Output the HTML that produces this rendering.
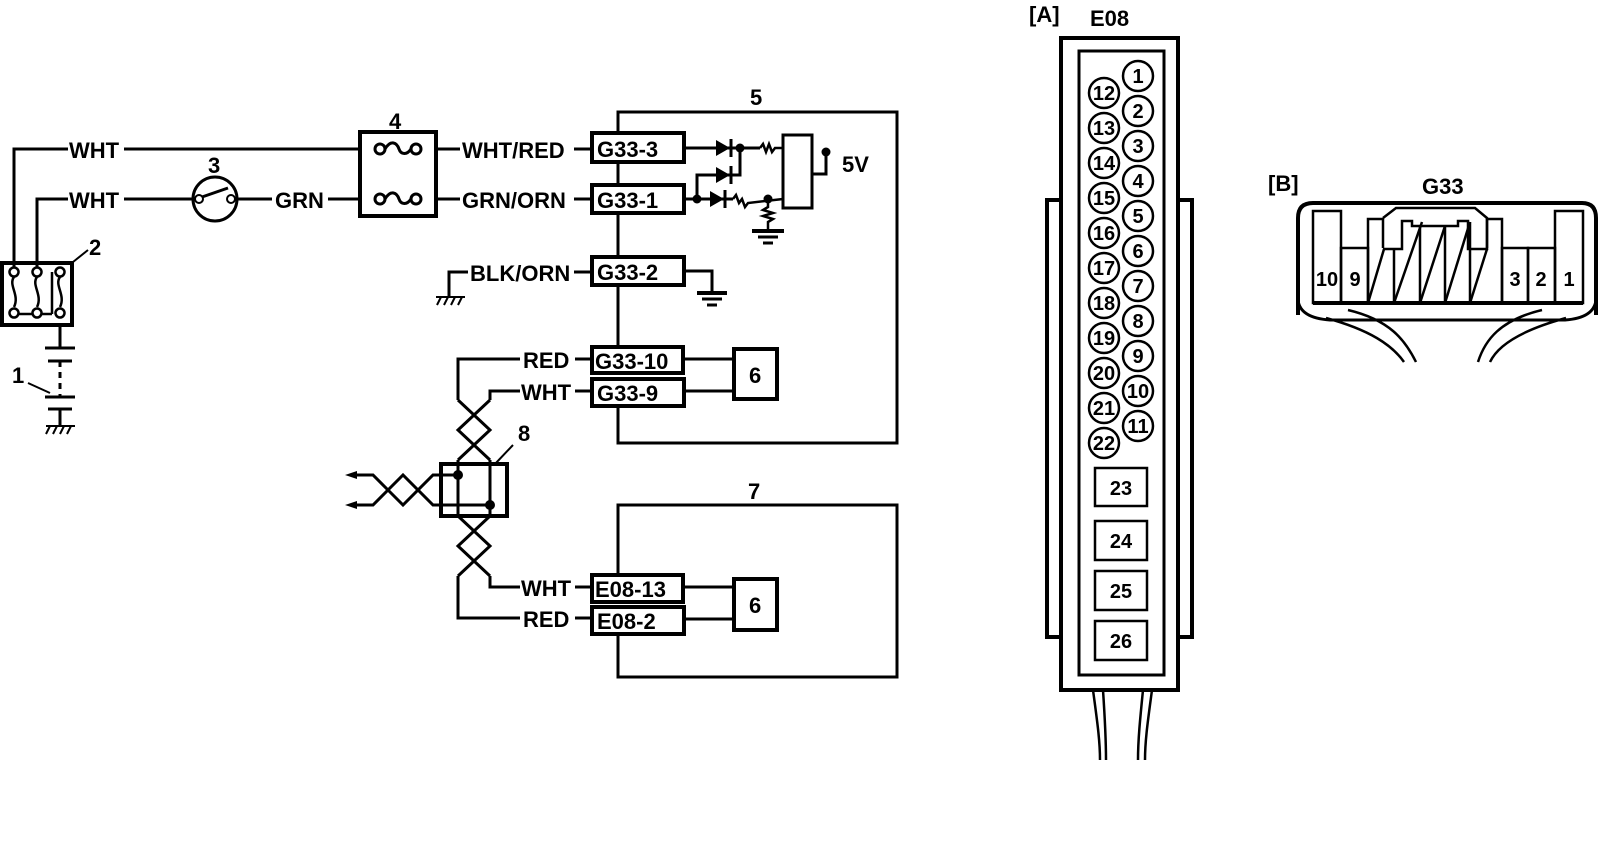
<!DOCTYPE html>
<html><head><meta charset="utf-8"><style>
html,body{margin:0;padding:0;background:#fff;}
svg{display:block;}
text{font-family:"Liberation Sans",sans-serif;font-weight:bold;fill:#000;}
</style></head><body>
<svg width="1600" height="846" viewBox="0 0 1600 846" xmlns="http://www.w3.org/2000/svg">
<g fill="none" stroke="#000" stroke-width="3">
<polyline points="14,268 14,149 68,149"/>
<line x1="124" y1="149" x2="360" y2="149"/>
<polyline points="37,268 37,199 68,199"/>
<line x1="124" y1="199" x2="192" y2="199"/>
<line x1="238" y1="199" x2="272" y2="199"/>
<line x1="328" y1="199" x2="360" y2="199"/>
<rect x="2" y="263" width="70" height="62" stroke-width="4"/>
<g stroke-width="2.5">
<path d="M14,277 c-6,8 6,18 0,30 M37,277 c-6,8 6,18 0,30 M60,277 c-6,8 6,18 0,30 M52,272 L52,314 M18,314 L33,314 M41,314 L52,314"/>
<circle cx="14" cy="272" r="4.5" fill="#fff"/><circle cx="37" cy="272" r="4.5" fill="#fff"/><circle cx="60" cy="272" r="4.5" fill="#fff"/>
<circle cx="14" cy="313" r="4.5" fill="#fff"/><circle cx="37" cy="313" r="4.5" fill="#fff"/><circle cx="60" cy="313" r="4.5" fill="#fff"/>
</g>
<line x1="73" y1="262" x2="88" y2="250" stroke-width="2"/>
<line x1="60" y1="325" x2="60" y2="348"/>
<line x1="45" y1="348" x2="75" y2="348"/>
<line x1="48" y1="361" x2="72" y2="361"/>
<line x1="60" y1="361" x2="60" y2="396" stroke-dasharray="6,5"/>
<line x1="45" y1="397" x2="75" y2="397"/>
<line x1="48" y1="409" x2="72" y2="409"/>
<line x1="60" y1="409" x2="60" y2="425"/>
<path d="M46,426 L75,426 M50,426 l-4,8 M57,426 l-4,8 M64,426 l-4,8 M71,426 l-4,8" stroke-width="2"/>
<line x1="28" y1="383" x2="50" y2="393" stroke-width="2"/>
<circle cx="215" cy="199" r="22"/>
<circle cx="199" cy="199" r="4" stroke-width="2" fill="#fff"/>
<circle cx="231" cy="199" r="4" stroke-width="2" fill="#fff"/>
<line x1="202" y1="197" x2="228" y2="188"/>
<rect x="360" y="132" width="76" height="84" stroke-width="4"/>
<circle cx="380" cy="149" r="5" fill="#fff"/><circle cx="416" cy="149" r="5" fill="#fff"/>
<path d="M385,149 c6,-10 12,-6 14,0 c2,6 8,6 12,0"/>
<circle cx="380" cy="199" r="5" fill="#fff"/><circle cx="416" cy="199" r="5" fill="#fff"/>
<path d="M385,199 c6,-10 12,-6 14,0 c2,6 8,6 12,0"/>
<line x1="436" y1="149" x2="460" y2="149"/>
<line x1="436" y1="199" x2="460" y2="199"/>
<line x1="574" y1="149" x2="592" y2="149"/>
<line x1="574" y1="199" x2="592" y2="199"/>
<polyline points="618,133 618,112 897,112 897,443 618,443 618,406"/>
<line x1="618" y1="162" x2="618" y2="185"/>
<line x1="618" y1="213" x2="618" y2="257"/>
<line x1="618" y1="285" x2="618" y2="347"/>
<rect x="592" y="133" width="92" height="29" stroke-width="4"/>
<rect x="592" y="185" width="92" height="28" stroke-width="4"/>
<rect x="592" y="257" width="92" height="28" stroke-width="4"/>
<line x1="684" y1="148" x2="760" y2="148"/>
<line x1="684" y1="199" x2="733" y2="199"/>
<polyline points="697,199 697,175 740,175 740,148"/>
<path d="M760,148 l3,-4 l3,8 l3,-8 l3,8 l3,-4 L783,148" stroke-width="2.5"/>
<path d="M733,199 l3,-4 l3,8 l3,-4 l3,8 l3,-4 L783,199" stroke-width="2.5"/>
<path d="M768,199 L768,207 l-5,3 l10,3 l-10,3 l10,3 l-5,3 L768,230" stroke-width="2.5"/>
<line x1="752" y1="231" x2="784" y2="231" stroke-width="4"/>
<line x1="758" y1="237" x2="778" y2="237"/>
<line x1="763" y1="243" x2="773" y2="243"/>
<rect x="783" y="135" width="29" height="73" stroke-width="3"/>
<polyline points="812,174 826,174 826,152"/>
<polyline points="684,271 712,271 712,293"/>
<line x1="697" y1="293" x2="727" y2="293" stroke-width="4"/>
<line x1="702" y1="299" x2="722" y2="299"/>
<line x1="707" y1="305" x2="717" y2="305"/>
<polyline points="468,272 449,272 449,297"/>
<path d="M436,297 L465,297 M441,297 l-4,8 M448,297 l-4,8 M455,297 l-4,8 M462,297 l-4,8" stroke-width="2"/>
<line x1="574" y1="272" x2="592" y2="272"/>
<rect x="592" y="347" width="91" height="26" stroke-width="4"/>
<rect x="592" y="379" width="92" height="27" stroke-width="4"/>
<line x1="683" y1="359" x2="734" y2="359"/>
<line x1="684" y1="391" x2="734" y2="391"/>
<rect x="734" y="349" width="43" height="50" stroke-width="4"/>
<polyline points="520,359 458,359 458,400"/>
<polyline points="520,391 490,391 490,400"/>
<line x1="575" y1="359" x2="592" y2="359"/>
<line x1="575" y1="391" x2="592" y2="391"/>
<path d="M458,400 L490,430 L458,460 M490,400 L458,430 L490,460" stroke-width="3"/>
<line x1="458" y1="460" x2="458" y2="516"/><line x1="490" y1="460" x2="490" y2="516"/>
<rect x="441" y="464" width="66" height="52" stroke-width="4"/>
<line x1="513" y1="445" x2="495" y2="464" stroke-width="2"/>
<polyline points="458,475 433,475 418,490 403,475 388,490 373,505 355,505"/>
<polyline points="490,505 433,505 418,490 403,505 388,490 373,475 355,475"/>
<path d="M458,516 L490,546 L458,576 M490,516 L458,546 L490,576" stroke-width="3"/>
<polyline points="490,576 490,587 520,587"/>
<polyline points="458,576 458,618 520,618"/>
<line x1="575" y1="587" x2="592" y2="587"/>
<line x1="575" y1="618" x2="592" y2="618"/>
<polyline points="618,575 618,505 897,505 897,677 618,677 618,633"/>
<rect x="592" y="575" width="91" height="27" stroke-width="4"/>
<rect x="592" y="607" width="92" height="27" stroke-width="4"/>
<line x1="683" y1="587" x2="734" y2="587"/>
<line x1="684" y1="619" x2="734" y2="619"/>
<rect x="734" y="579" width="43" height="51" stroke-width="4"/>
<rect x="1061" y="38" width="117" height="652" stroke-width="4"/>
<rect x="1079" y="51" width="85" height="624" stroke-width="3"/>
<polyline points="1061,200 1047,200 1047,637 1061,637" stroke-width="4"/>
<polyline points="1178,200 1192,200 1192,637 1178,637" stroke-width="4"/>
<path d="M1093,690 C1097,720 1100,740 1100,760 M1103,690 C1105,720 1106,740 1106,760 M1143,690 C1140,720 1138,740 1138,760 M1152,690 C1148,720 1145,740 1145,760" stroke-width="2.5"/>
<g stroke-width="2.5">
<rect x="1095" y="468" width="52" height="38"/>
<rect x="1095" y="521" width="52" height="39"/>
<rect x="1095" y="571" width="52" height="39"/>
<rect x="1095" y="621" width="52" height="39"/>
</g>
<path d="M1298,315 L1298,218 Q1298,203 1313,203 L1582,203 Q1596,203 1596,218 L1596,315" stroke-width="4"/>
<path d="M1298,300 Q1300,318 1330,320 L1565,320 Q1594,318 1596,300" stroke-width="3"/>
<line x1="1313" y1="303" x2="1583" y2="303" stroke-width="4"/>
<g stroke-width="2.5">
<rect x="1313" y="211" width="28" height="92"/>
<rect x="1341" y="248" width="27" height="55"/>
<rect x="1555" y="211" width="28" height="92"/>
<rect x="1528" y="248" width="27" height="55"/>
<rect x="1502" y="248" width="26" height="55"/>
<polyline points="1368,303 1368,219 1383,219 1383,248"/>
<polyline points="1502,303 1502,219 1487,219 1487,248"/>
<polyline points="1383,218 1396,208 1475,208 1487,218 1487,249 1468,249 1468,221 1458,221 1458,226 1412,226 1412,221 1402,221 1402,249 1383,249"/>
<line x1="1368" y1="303" x2="1384" y2="249"/>
<line x1="1394" y1="303" x2="1422" y2="222"/>
<line x1="1420" y1="303" x2="1420" y2="226"/>
<line x1="1420" y1="303" x2="1445" y2="226"/>
<line x1="1445" y1="303" x2="1445" y2="226"/>
<line x1="1445" y1="303" x2="1470" y2="222"/>
<line x1="1470" y1="303" x2="1470" y2="222"/>
<line x1="1470" y1="303" x2="1487" y2="249"/>
<line x1="1394" y1="303" x2="1394" y2="249"/>
</g>
<path d="M1348,310 C1390,320 1405,340 1416,362 M1326,318 C1370,330 1392,345 1404,362 M1542,310 C1500,320 1485,340 1478,362 M1566,318 C1522,330 1498,345 1490,362" stroke-width="2.5"/>
</g>
<g fill="#000">
<path d="M345,475 L357,471 L357,479 Z"/>
<path d="M345,505 L357,501 L357,509 Z"/>
<path d="M716,140 L730,148 L716,156 Z"/><line x1="731" y1="139" x2="731" y2="157" stroke="#000" stroke-width="3"/>
<path d="M716,167 L730,175 L716,183 Z"/><line x1="731" y1="166" x2="731" y2="184" stroke="#000" stroke-width="3"/>
<path d="M710,191 L724,199 L710,207 Z"/><line x1="725" y1="190" x2="725" y2="208" stroke="#000" stroke-width="3"/>
<circle cx="740" cy="148" r="4.5"/>
<circle cx="697" cy="199" r="4.5"/>
<circle cx="768" cy="199" r="4.5"/>
<circle cx="826" cy="152" r="4.5"/>
<circle cx="458" cy="475" r="5"/>
<circle cx="490" cy="505" r="5"/>
</g>
<g fill="none" stroke="#000" stroke-width="2.5">
<circle cx="1138" cy="76" r="15"/><circle cx="1138" cy="111" r="15"/><circle cx="1138" cy="146" r="15"/><circle cx="1138" cy="181" r="15"/><circle cx="1138" cy="216" r="15"/><circle cx="1138" cy="251" r="15"/><circle cx="1138" cy="286" r="15"/><circle cx="1138" cy="321" r="15"/><circle cx="1138" cy="356" r="15"/><circle cx="1138" cy="391" r="15"/><circle cx="1138" cy="426" r="15"/>
<circle cx="1104" cy="93" r="15"/><circle cx="1104" cy="128" r="15"/><circle cx="1104" cy="163" r="15"/><circle cx="1104" cy="198" r="15"/><circle cx="1104" cy="233" r="15"/><circle cx="1104" cy="268" r="15"/><circle cx="1104" cy="303" r="15"/><circle cx="1104" cy="338" r="15"/><circle cx="1104" cy="373" r="15"/><circle cx="1104" cy="408" r="15"/><circle cx="1104" cy="443" r="15"/>
</g>
<g font-size="22">
<text x="69" y="158">WHT</text>
<text x="69" y="208">WHT</text>
<text x="275" y="208">GRN</text>
<text x="462" y="158">WHT/RED</text>
<text x="462" y="208">GRN/ORN</text>
<text x="470" y="281">BLK/ORN</text>
<text x="523" y="368">RED</text>
<text x="521" y="400">WHT</text>
<text x="521" y="596">WHT</text>
<text x="523" y="627">RED</text>
<text x="597" y="157">G33-3</text>
<text x="597" y="208">G33-1</text>
<text x="597" y="280">G33-2</text>
<text x="595" y="369">G33-10</text>
<text x="597" y="401">G33-9</text>
<text x="595" y="597">E08-13</text>
<text x="597" y="629">E08-2</text>
<text x="749" y="383">6</text>
<text x="749" y="613">6</text>
<text x="842" y="172">5V</text>
<text x="389" y="129">4</text>
<text x="208" y="173">3</text>
<text x="89" y="255">2</text>
<text x="12" y="383">1</text>
<text x="750" y="105">5</text>
<text x="748" y="499">7</text>
<text x="518" y="441">8</text>
<text x="1029" y="22">[A]</text>
<text x="1090" y="26" font-weight="normal">E08</text>
<text x="1268" y="191">[B]</text>
<text x="1422" y="194" font-weight="normal">G33</text>
</g>
<g font-size="20" text-anchor="middle">
<text x="1138" y="83">1</text><text x="1138" y="118">2</text><text x="1138" y="153">3</text><text x="1138" y="188">4</text><text x="1138" y="223">5</text><text x="1138" y="258">6</text><text x="1138" y="293">7</text><text x="1138" y="328">8</text><text x="1138" y="363">9</text><text x="1138" y="398">10</text><text x="1138" y="433">11</text>
<text x="1104" y="100">12</text><text x="1104" y="135">13</text><text x="1104" y="170">14</text><text x="1104" y="205">15</text><text x="1104" y="240">16</text><text x="1104" y="275">17</text><text x="1104" y="310">18</text><text x="1104" y="345">19</text><text x="1104" y="380">20</text><text x="1104" y="415">21</text><text x="1104" y="450">22</text>
<text x="1121" y="495">23</text><text x="1121" y="548">24</text><text x="1121" y="598">25</text><text x="1121" y="648">26</text>
<text x="1327" y="286">10</text><text x="1355" y="286">9</text><text x="1515" y="286">3</text><text x="1541" y="286">2</text><text x="1569" y="286">1</text>
</g>
</svg>
</body></html>
